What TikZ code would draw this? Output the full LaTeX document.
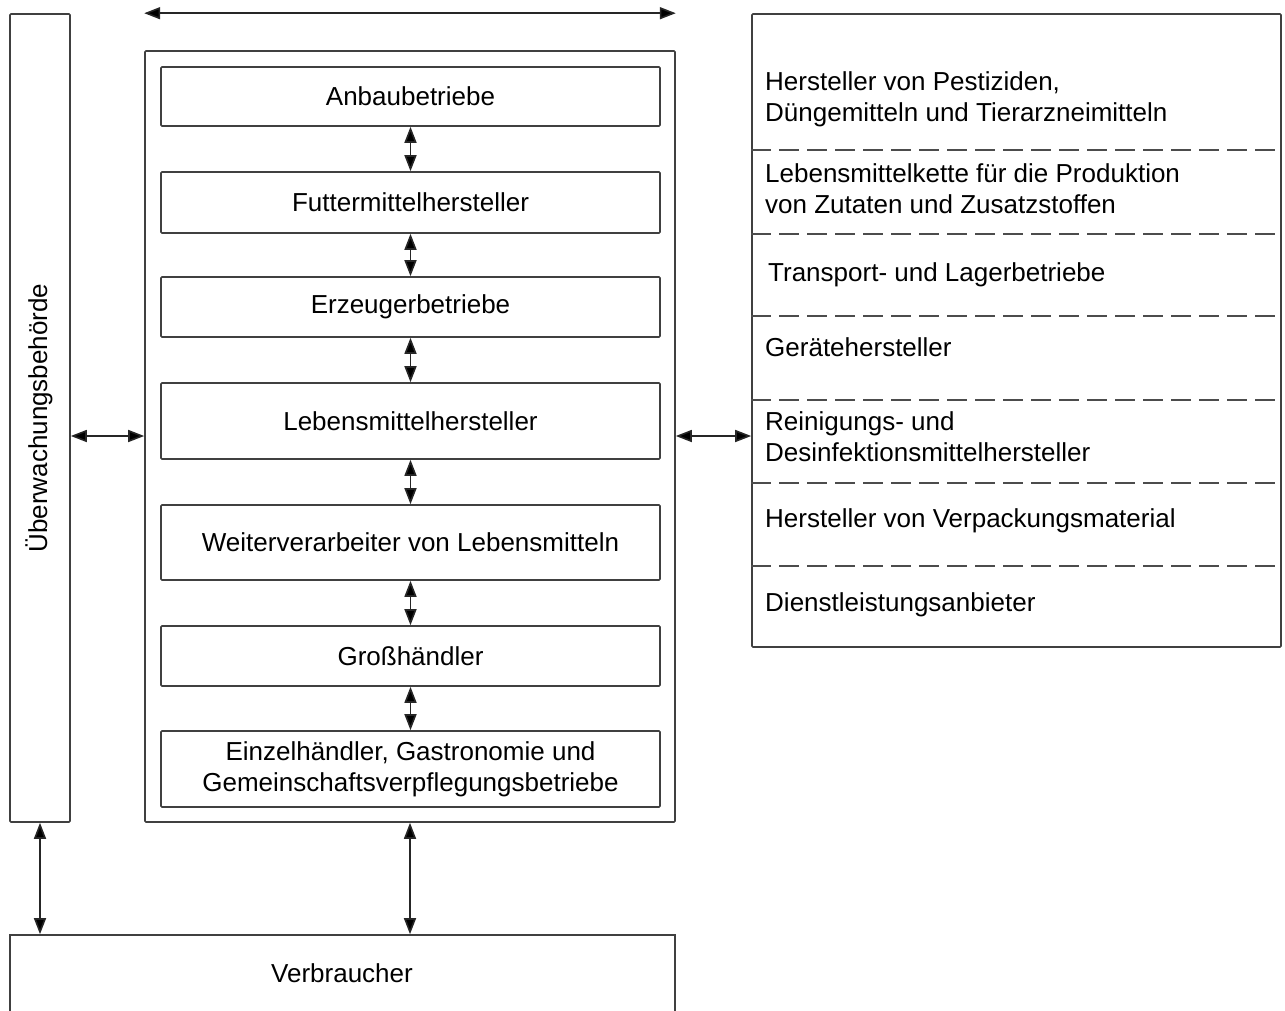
\documentclass[tikz,border=0pt]{standalone}
\usepackage{fontspec}
\setmainfont{Liberation Sans}
\usetikzlibrary{arrows.meta}
\tikzset{
  ln/.style={draw=black!75, line width=1.6pt},
  box/.style={ln, rectangle, rounded corners=1pt, inner sep=0pt, align=center, font=\fontsize{26}{31}\selectfont},
  rtext/.style={anchor=west, inner sep=0pt, align=left, font=\fontsize{26}{31}\selectfont},
  dar/.style={draw=black!85, line width=1.6pt, {Triangle[length=16pt,width=12pt,fill=black]}-{Triangle[length=16pt,width=12pt,fill=black]}},
  dsh/.style={draw=black!70, line width=1.6pt, dash pattern=on 20pt off 8pt},
}
\begin{document}
\begin{tikzpicture}[x=1pt,y=-1pt]
\useasboundingbox (0,0) rectangle (1285,1010);
\clip (0,0) rectangle (1285,1010);
% left authority box
\node[box, minimum width=60, minimum height=808] (lb) at (40,418) {};
\node[rotate=90, inner sep=0pt, font=\fontsize{26}{31}\selectfont] (lbt) at (39,418) {Überwachungsbehörde};
% outer chain box
\node[box, minimum width=530, minimum height=771] (outer) at (410,436.5) {};
% inner boxes
\node[box, minimum width=499, minimum height=59] (a) at (410.5,96.5) {Anbaubetriebe};
\node[box, minimum width=499, minimum height=61] (b) at (410.5,202.5) {Futtermittelhersteller};
\node[box, minimum width=499, minimum height=60] (c) at (410.5,307) {Erzeugerbetriebe};
\node[box, minimum width=499, minimum height=76] (d) at (410.5,421) {Lebensmittelhersteller};
\node[box, minimum width=499, minimum height=75] (e) at (410.5,542.5) {Weiterverarbeiter von Lebensmitteln};
\node[box, minimum width=499, minimum height=60] (f) at (410.5,656) {Großhändler};
\node[box, minimum width=499, minimum height=76] (g) at (410.5,769) {Einzelhändler, Gastronomie und\\Gemeinschaftsverpflegungsbetriebe};
% right box
\node[box, minimum width=529, minimum height=633] (rb) at (1016.5,330.5) {};
\node[rtext] (r1) at (765,99) {Hersteller von Pestiziden,\\Düngemitteln und Tierarzneimitteln};
\node[rtext] (r2) at (765,189) {Lebensmittelkette für die Produktion\\von Zutaten und Zusatzstoffen};
\node[rtext] (r3) at (768,275) {Transport- und Lagerbetriebe};
\node[rtext] (r4) at (765,347) {Gerätehersteller};
\node[rtext] (r5) at (765,437) {Reinigungs- und\\Desinfektionsmittelhersteller};
\node[rtext] (r6) at (765,521) {Hersteller von Verpackungsmaterial};
\node[rtext] (r7) at (765,605) {Dienstleistungsanbieter};
\foreach \yy in {150,234,316,400,483,566}
  \draw[dsh] (rb.west |- 0,\yy) -- (rb.east |- 0,\yy);
% consumer box (runs past the bottom edge)
\node[box, minimum width=665, minimum height=120, rounded corners=0pt] (v) at (342.5,995) {};
\node[inner sep=0pt, font=\fontsize{26}{31}\selectfont] (vt) at (342,973) {Verbraucher};
% connectors
\draw[dar] (outer.north west |- lb.north) -- (outer.north east |- lb.north);
\coordinate (mid) at (0,436);
\draw[dar] (lb.east |- mid) -- (outer.west |- mid);
\draw[dar] (outer.east |- mid) -- (rb.west |- mid);
\draw[dar] (a.south) -- (b.north);
\draw[dar] (b.south) -- (c.north);
\draw[dar] (c.south) -- (d.north);
\draw[dar] (d.south) -- (e.north);
\draw[dar] (e.south) -- (f.north);
\draw[dar] (f.south) -- (g.north);
\draw[dar] (lb.south) -- (lb.south |- v.north);
\draw[dar] (outer.south) -- (outer.south |- v.north);
\end{tikzpicture}
\end{document}
